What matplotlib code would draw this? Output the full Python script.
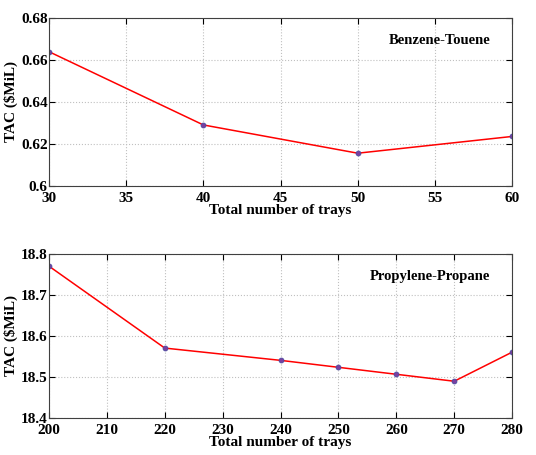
import numpy as np
import matplotlib
matplotlib.use('Agg')
import matplotlib.pyplot as plt

# Benzene-Toluene column: TAC vs total number of trays
trays_bt = [30, 40, 50, 60]
tac_bt = [0.664, 0.629, 0.6155, 0.6235]

# Propylene-Propane column
trays_pp = [200, 220, 240, 250, 260, 270, 280]
tac_pp = [18.77, 18.57, 18.54, 18.523, 18.506, 18.489, 18.56]

plt.rcParams['font.family'] = ['Liberation Serif', 'DejaVu Serif']
plt.rcParams['font.weight'] = 'bold'
plt.rcParams['axes.labelweight'] = 'bold'

fig = plt.figure(figsize=(5.36, 4.55), dpi=100)
ax1 = fig.add_axes([0.0914, 0.592, 0.864, 0.368])
ax2 = fig.add_axes([0.0914, 0.082, 0.864, 0.36])

def style(ax, xs, ys, xticks, yticks, ylim, text):
    ax.plot(xs, ys, color='red', lw=1.1, marker='o', ms=3.5,
            markerfacecolor='#7a3fa0', markeredgecolor='#4a4aa0', mew=0.6)
    ax.set_xlim(xticks[0], xticks[-1])
    ax.set_ylim(*ylim)
    ax.set_xticks(xticks)
    ax.set_yticks(yticks)
    ax.set_yticklabels([('%g' % v) for v in yticks])
    ax.grid(True, color='#c0c0c0', linestyle=':', linewidth=0.8)
    ax.tick_params(direction='in', top=True, right=True, labelsize=11, length=4)
    ax.tick_params(axis='x', pad=4.5)
    ax.tick_params(axis='y', pad=1)
    ax.set_xlabel('Total number of trays', fontsize=11, labelpad=-1)
    ax.set_ylabel('TAC (\\$MiL)', fontsize=11, labelpad=2)
    ax.text(0.953, 0.865, text, transform=ax.transAxes, ha='right', va='center',
            fontsize=10.5, fontweight='bold')
    for sp in ax.spines.values():
        sp.set_color('#404040')

style(ax1, trays_bt, tac_bt, [30, 35, 40, 45, 50, 55, 60],
      [0.6, 0.62, 0.64, 0.66, 0.68], (0.6, 0.68), 'Benzene-Touene')
style(ax2, trays_pp, tac_pp, [200, 210, 220, 230, 240, 250, 260, 270, 280],
      [18.4, 18.5, 18.6, 18.7, 18.8], (18.4, 18.8), 'Propylene-Propane')

fig.savefig('out.png', dpi=100)
